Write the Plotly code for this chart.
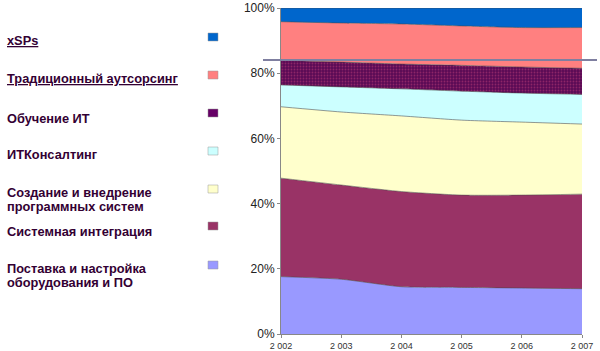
import plotly.graph_objects as go

years = [2002, 2003, 2004, 2005, 2006, 2007]
year_labels = ["2 002", "2 003", "2 004", "2 005", "2 006", "2 007"]

postavka = [17.6, 16.8, 14.5, 14.3, 14.1, 13.9]
sist_integr = [30.2, 28.9, 29.2, 28.3, 28.5, 29.0]
sozdanie = [21.9, 22.4, 23.2, 23.0, 22.4, 21.5]
it_konsalt = [6.7, 7.7, 8.3, 8.9, 8.9, 9.1]
obuchenie = [7.6, 7.6, 7.6, 7.9, 8.0, 8.0]
tradic = [11.8, 12.0, 12.3, 12.1, 12.1, 12.5]
xsps = [4.2, 4.6, 4.9, 5.5, 6.0, 6.0]

series = [
    ("Поставка и настройка оборудования и ПО", postavka, "#9999FF", False),
    ("Системная интеграция", sist_integr, "#993366", False),
    ("Создание и внедрение программных систем", sozdanie, "#FFFFCC", False),
    ("ИТКонсалтинг", it_konsalt, "#CCFFFF", False),
    ("Обучение ИТ", obuchenie, "#660066", True),
    ("Традиционный аутсорсинг", tradic, "#FF8080", False),
    ("xSPs", xsps, "#0066CC", False),
]

y_ticks = [0, 20, 40, 60, 80, 100]
y_labels = ["0%", "20%", "40%", "60%", "80%", "100%"]

fig = go.Figure()
for name, vals, col, pat in series:
    kw = {}
    if pat:
        kw["fillpattern"] = dict(shape=".", fgcolor="#C0407A", bgcolor="#5A0A55", size=3, solidity=0.3)
    fig.add_trace(go.Scatter(
        x=years, y=vals, name=name, stackgroup="one", groupnorm="percent",
        mode="lines", line=dict(color="rgba(70,70,70,0.7)", width=0.8, shape="spline", smoothing=0.6),
        fillcolor=col, showlegend=False, **kw))

fig.update_layout(
    width=600, height=351,
    margin=dict(l=281, r=18, t=8, b=17),
    paper_bgcolor="white", plot_bgcolor="white",
    font=dict(family="Liberation Sans, Arial, sans-serif", color="#222"),
    xaxis=dict(range=[2002, 2007], tickvals=years, ticktext=year_labels, automargin=False,
               tickfont=dict(size=9, color="#333"), showgrid=False, zeroline=False,
               showline=True, linecolor="#888", linewidth=1, ticks="outside", ticklen=3,
               tickcolor="#888"),
    yaxis=dict(range=[0, 100], tickvals=y_ticks, ticktext=y_labels, automargin=False,
               tickfont=dict(size=12, color="#222"), showgrid=False, zeroline=False,
               showline=True, linecolor="#888", linewidth=1, ticks="outside", ticklen=3,
               tickcolor="#888"),
)

# Custom legend on the left: (text lines with centre y), square centre y, colour
legend_items = [
    ([("<u>xSPs</u>", 41)], 37, "#0066CC"),
    ([("<u>Традиционный аутсорсинг</u>", 79)], 75, "#FF8080"),
    ([("Обучение ИТ", 118)], 113, "#660066"),
    ([("ИТКонсалтинг", 155)], 151, "#CCFFFF"),
    ([("Создание и внедрение", 192), ("программных систем", 206)], 189, "#FFFFCC"),
    ([("Системная интеграция", 231)], 226, "#993366"),
    ([("Поставка и настройка", 268), ("оборудования и ПО", 282)], 265, "#9999FF"),
]
pw = 600 - 281 - 18
ph = 351 - 8 - 17
def px_to_paper_x(px):
    return (px - 281) / pw
def px_to_paper_y(py):
    return (351 - 17 - py) / ph

for lines, sy, col in legend_items:
    for text, ty in lines:
        fig.add_annotation(
            x=px_to_paper_x(5), y=px_to_paper_y(ty), xref="paper", yref="paper",
            text="<b>" + text + "</b>", showarrow=False, xanchor="left", yanchor="middle",
            align="left", font=dict(size=12.8, color="#330033", family="Liberation Sans, Arial, sans-serif"))
    fig.add_shape(type="rect", xref="paper", yref="paper",
                  x0=px_to_paper_x(208), x1=px_to_paper_x(218),
                  y0=px_to_paper_y(sy + 4), y1=px_to_paper_y(sy - 4),
                  fillcolor=col, line=dict(color="#999", width=0.5))

# horizontal overlay line
fig.add_shape(type="line", xref="paper", yref="paper",
              x0=px_to_paper_x(263), x1=px_to_paper_x(597),
              y0=px_to_paper_y(60), y1=px_to_paper_y(60),
              line=dict(color="#7f7fa0", width=2))

fig.write_html("out.html")
